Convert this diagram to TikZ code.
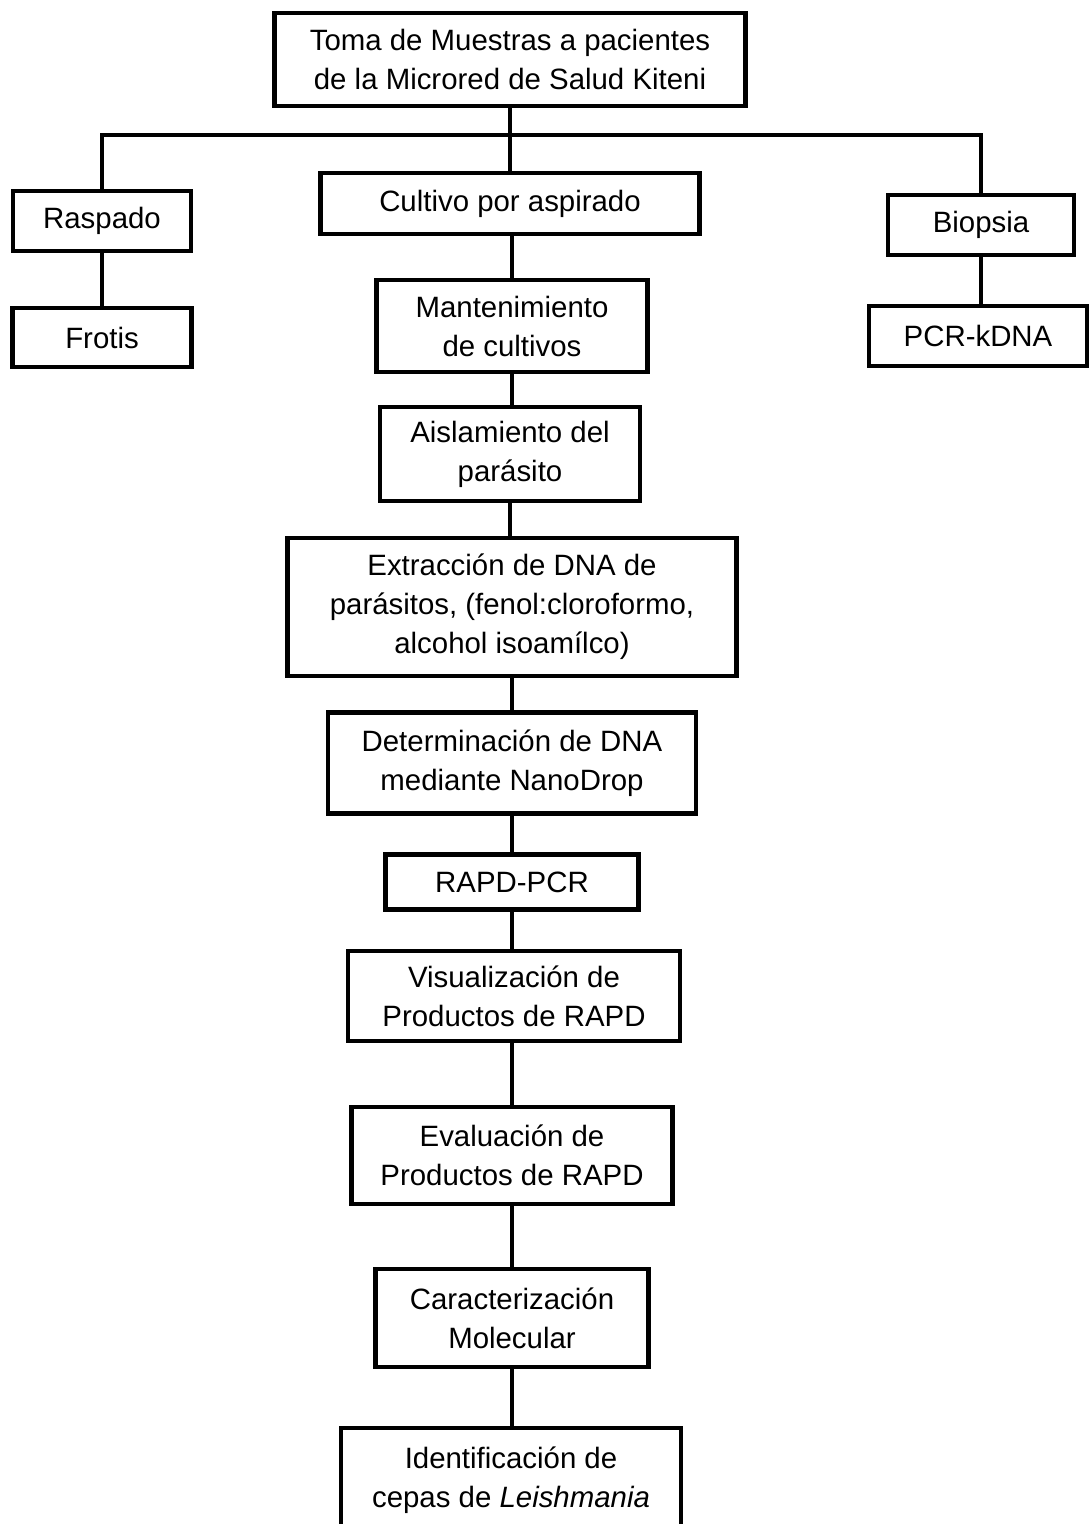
\documentclass[tikz,border=0pt]{standalone}
\usepackage{fontspec}
\setmainfont{Liberation Sans}

\begin{document}
\begin{tikzpicture}[x=0.5pt, y=-0.5pt,
        paso/.style={draw, line width=2.1pt, align=center, inner sep=0pt, outer sep=0pt,
            font=\fontsize{14.7}{19.5}\selectfont},
        linea/.style={line width=1.8pt}]
        % Canvas
        \clip (0,0) rectangle (1090,1524);

        % Top box
        \node[paso, minimum width=235.5pt, minimum height=46.5pt] (toma) at (510,59.5)
            {Toma de Muestras a pacientes\\de la Microred de Salud Kiteni};

        % Left branch
        \node[paso, minimum width=89pt, minimum height=30pt] (raspado) at (102,221) {Raspado};
        \node[paso, minimum width=89.5pt, minimum height=29.5pt] (frotis) at (102,337.5) {Frotis};

        % Right branch
        \node[paso, minimum width=93pt, minimum height=30pt] (biopsia) at (981,225) {Biopsia};
        \node[paso, minimum width=109pt, minimum height=30pt] (pcr) at (978,336) {PCR-kDNA};

        % Central column
        \node[paso, minimum width=189.5pt, minimum height=30.5pt] (cultivo) at (510,203.5) {Cultivo por aspirado};
        \node[paso, minimum width=135.5pt, minimum height=46pt] (mant) at (512,326) {Mantenimiento\\de cultivos};
        \node[paso, minimum width=130pt, minimum height=47pt] (aisl) at (510,454) {Aislamiento del\\parásito};
        \node[paso, minimum width=224.5pt, minimum height=69pt] (extr) at (512,607)
            {Extracción de DNA de\\parásitos, (fenol:cloroformo,\\alcohol isoamílco)};
        \node[paso, minimum width=184pt, minimum height=50.5pt] (det) at (512,763)
            {Determinación de DNA\\mediante NanoDrop};
        \node[paso, minimum width=126.5pt, minimum height=27.5pt] (rapd) at (512,882) {RAPD-PCR};
        \node[paso, minimum width=166pt, minimum height=45pt] (vis) at (514,996)
            {Visualización de\\Productos de RAPD};
        \node[paso, minimum width=160.5pt, minimum height=48.5pt] (eval) at (512,1155.5)
            {Evaluación de\\Productos de RAPD};
        \node[paso, minimum width=136.5pt, minimum height=49pt] (car) at (512,1318)
            {Caracterización\\Molecular};
        \node[paso, minimum width=170pt, minimum height=52pt] (ident) at (511,1480)
            {Identificación de\\cepas de \textit{Leishmania}};

        % Branch point
        \coordinate (rama) at (510,135);

        % Connectors
        \draw[linea] (toma) -- (cultivo);
        \draw[linea] (rama) -| (raspado);
        \draw[linea] (rama) -| (biopsia);
        \draw[linea] (raspado) -- (frotis);
        \draw[linea] (biopsia) -- (biopsia |- pcr.north);
        \draw[linea] (cultivo.south -| mant) -- (mant);
        \draw[linea] (mant.south) -- (aisl.north -| mant.south);
        \draw[linea] (aisl) -- (extr.north -| aisl);
        \draw[linea] (extr) -- (det);
        \draw[linea] (det) -- (rapd);
        \draw[linea] (rapd) -- (vis.north -| rapd);
        \draw[linea] (vis.south -| eval) -- (eval);
        \draw[linea] (eval) -- (car);
        \draw[linea] (car) -- (ident.north -| car);
    \end{tikzpicture}
\end{document}
